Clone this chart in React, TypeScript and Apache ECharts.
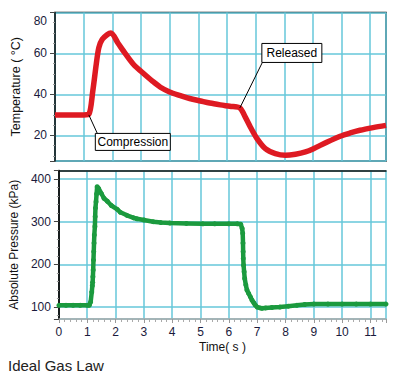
import React, { useEffect, useRef } from 'react';
import * as echarts from 'echarts';

// Temperature (°C) vs time (s)
const tempTime = [0, 0.5, 1.0, 1.18, 1.32, 1.44, 1.53, 1.65, 1.83, 1.95, 2.2, 2.46, 2.75, 3.05, 3.4, 3.68, 4.0, 4.38, 4.7, 5.08, 5.4, 5.77, 6.1, 6.45, 6.64, 6.82, 7.05, 7.34, 7.69, 8.04, 8.39, 8.74, 9.02, 9.5, 9.95, 10.3, 10.64, 11.1, 11.55];
const tempValue = [30, 30, 30, 30.3, 41.8, 54.8, 62.9, 66.9, 69.3, 70, 65, 59.8, 54.5, 50.7, 46.5, 43.5, 41.2, 39.4, 38, 36.8, 35.8, 34.9, 34.2, 33.4, 28.9, 24, 18.4, 13.5, 11.1, 10.3, 10.8, 11.9, 13.5, 16.8, 19.6, 21.2, 22.5, 23.8, 24.9];

// Absolute pressure (kPa) vs time (s)
const pressTime = [0, 0.25, 0.5, 0.75, 1.0, 1.07, 1.12, 1.16, 1.18, 1.19, 1.2, 1.21, 1.22, 1.23, 1.24, 1.25, 1.27, 1.28, 1.29, 1.31, 1.33, 1.35, 1.4, 1.5, 1.59, 1.71, 1.85, 2.06, 2.17, 2.4, 2.64, 2.75, 3.0, 3.33, 3.6, 3.92, 4.5, 5.08, 5.5, 6.0, 6.3, 6.42, 6.47, 6.49, 6.5, 6.505, 6.51, 6.52, 6.54, 6.56, 6.6, 6.64, 6.7, 6.76, 6.82, 6.88, 6.93, 7.0, 7.1, 7.17, 7.3, 7.52, 7.8, 8.1, 8.4, 8.68, 9.0, 9.5, 10.0, 10.5, 11.0, 11.55];
const pressValue = [104, 104, 104, 104, 104, 104, 112, 135, 150, 158, 171, 187, 210, 230, 250, 269, 289, 312, 332, 347, 365, 382, 378, 366, 355, 348, 338, 329, 322, 315, 309, 307, 304, 300, 298, 297, 296, 295, 295, 295, 295, 294, 284, 273, 250, 230, 214, 198, 183, 167, 152, 140, 132, 124, 116, 110, 105, 100, 98, 97, 98, 99, 100, 102, 104, 106, 107, 107, 107, 107, 107, 107];

// Annotation anchors [time, temperature]
const compressionAt = [1.18, 30];
const releasedAt = [6.45, 33.4];

const FONT = 'Arial, "Liberation Sans", Helvetica, sans-serif';

export default function App() {
  const ref = useRef<HTMLDivElement>(null);
  useEffect(() => {
    const chart = echarts.init(ref.current!, null, { renderer: 'svg' });
    const gridColor = '#66c7da';
    const labelColor = '#1a1a3c';
    const tempData = tempTime.map((t, i) => [t, tempValue[i]]);
    const pressData = pressTime.map((t, i) => [t, pressValue[i]]);

    const option: any = {
      animation: false,
      backgroundColor: '#fff',
      textStyle: { fontFamily: FONT },
      title: {
        text: 'Ideal Gas Law',
        left: 8,
        top: 358,
        padding: 0,
        textStyle: { fontSize: 15, fontWeight: 'normal', color: '#222', fontFamily: FONT },
      },
      grid: [
        { left: 55, right: 13, top: 12.5, height: 148.5, show: true, borderColor: '#111', borderWidth: 1.5, backgroundColor: 'transparent' },
        { left: 55, right: 13, top: 170.5, height: 148.5, show: false },
      ],
      xAxis: [
        {
          type: 'value', gridIndex: 0, min: 0, max: 11.55, interval: 1,
          axisLine: { show: false }, axisTick: { show: false }, axisLabel: { show: false },
          splitLine: { show: true, lineStyle: { color: gridColor, width: 1.5 } },
        },
        {
          type: 'value', gridIndex: 1, min: 0, max: 11.55, interval: 1,
          axisLine: { show: true, lineStyle: { color: '#aaa', width: 1.5 } },
          axisTick: { show: true, length: 4, lineStyle: { color: '#999' } },
          minorTick: { show: true, splitNumber: 5, length: 3, lineStyle: { color: '#aaa' } },
          axisLabel: { show: true, margin: 7, fontSize: 12, color: labelColor, fontFamily: FONT, showMaxLabel: false },
          splitLine: { show: true, lineStyle: { color: gridColor, width: 1.5 } },
          name: 'Time( s )', nameLocation: 'middle', nameGap: 22,
          nameTextStyle: { fontSize: 12, color: '#111', fontFamily: FONT },
        },
        {
          type: 'value', gridIndex: 1, position: 'top', min: 0, max: 11.55,
          axisLine: { show: true, lineStyle: { color: '#111', width: 1.5 } },
          axisTick: { show: false }, axisLabel: { show: false }, splitLine: { show: false },
        },
      ],
      yAxis: [
        {
          type: 'value', gridIndex: 0, min: 7.5, max: 80, splitNumber: 4,
          axisLine: { show: true, lineStyle: { color: '#111', width: 1.5 } },
          axisTick: { show: true, length: 5, lineStyle: { color: '#444' } },
          minorTick: { show: true, splitNumber: 4, length: 2, lineStyle: { color: '#999' } },
          axisLabel: {
            margin: 8, fontSize: 12, color: labelColor, fontFamily: FONT, showMinLabel: false,
            formatter: (v: number) => (v === 80 ? '{m|80}' : String(v)),
            rich: { m: { fontSize: 12, color: labelColor, fontFamily: FONT, padding: [16, 0, 0, 0] } },
          },
          splitLine: { show: true, lineStyle: { color: gridColor, width: 1.5 } },
          name: 'Temperature ( °C)', nameLocation: 'middle', nameGap: 32, nameRotate: 90,
          nameTextStyle: { fontSize: 12.5, color: '#111', fontFamily: FONT },
        },
        {
          type: 'value', gridIndex: 1, min: 72, max: 420, splitNumber: 4,
          axisLine: { show: true, lineStyle: { color: '#111', width: 1.5 } },
          axisTick: { show: true, length: 5, lineStyle: { color: '#444' } },
          minorTick: { show: true, splitNumber: 5, length: 2, lineStyle: { color: '#999' } },
          axisLabel: { margin: 8, fontSize: 12, color: labelColor, fontFamily: FONT, showMinLabel: false },
          splitLine: { show: true, lineStyle: { color: gridColor, width: 1.5 } },
          name: 'Absolute Pressure (kPa)', nameLocation: 'middle', nameGap: 32, nameRotate: 90,
          nameTextStyle: { fontSize: 12, color: '#111', fontFamily: FONT },
        },
        {
          type: 'value', gridIndex: 1, position: 'right', min: 72, max: 420,
          axisLine: { show: true, lineStyle: { color: '#111', width: 1.5 } },
          axisTick: { show: false }, axisLabel: { show: false }, splitLine: { show: false },
        },
      ],
      series: [
        {
          name: 'Temperature', type: 'line', xAxisIndex: 0, yAxisIndex: 0,
          data: tempData, smooth: 0.3, symbol: 'none',
          lineStyle: { color: '#de1a22', width: 5.5 },
          z: 3,
        },
        {
          name: 'Pressure', type: 'line', xAxisIndex: 1, yAxisIndex: 1,
          data: pressData, symbol: 'circle', symbolSize: 5, showAllSymbol: true,
          lineStyle: { color: '#1b9a3e', width: 4.5 },
          itemStyle: { color: '#1b9a3e', borderWidth: 0 },
          z: 3,
        },
      ],
    };
    chart.setOption(option);

    const a = chart.convertToPixel({ xAxisIndex: 0, yAxisIndex: 0 }, compressionAt) as number[];
    const b = chart.convertToPixel({ xAxisIndex: 0, yAxisIndex: 0 }, releasedAt) as number[];
    const textStyle = (text: string) => ({
      text, fill: '#000', font: `12px ${FONT}`,
      textAlign: 'center', textVerticalAlign: 'middle', align: 'center', verticalAlign: 'middle',
    });
    chart.setOption({
      graphic: [
        { type: 'line', z: 10, shape: { x1: a[0], y1: a[1], x2: a[0] + 8.5, y2: a[1] + 18.5 }, style: { stroke: '#000', lineWidth: 1 } },
        { type: 'rect', z: 10, shape: { x: a[0] + 6.5, y: a[1] + 18.5, width: 75, height: 17 }, style: { fill: '#fff', stroke: '#000', lineWidth: 1 } },
        { type: 'text', z: 11, x: a[0] + 44, y: a[1] + 27.5, style: textStyle('Compression') },
        { type: 'line', z: 10, shape: { x1: b[0], y1: b[1], x2: b[0] + 22.5, y2: b[1] - 45.5 }, style: { stroke: '#000', lineWidth: 1 } },
        { type: 'rect', z: 10, shape: { x: b[0] + 22, y: b[1] - 64.5, width: 60, height: 19 }, style: { fill: '#fff', stroke: '#000', lineWidth: 1 } },
        { type: 'text', z: 11, x: b[0] + 52, y: b[1] - 55, style: textStyle('Released') },
      ],
    });

    return () => chart.dispose();
  }, []);
  return <div ref={ref} style={{ position: 'fixed', left: 0, top: 0, width: 399, height: 380 }} />;
}
